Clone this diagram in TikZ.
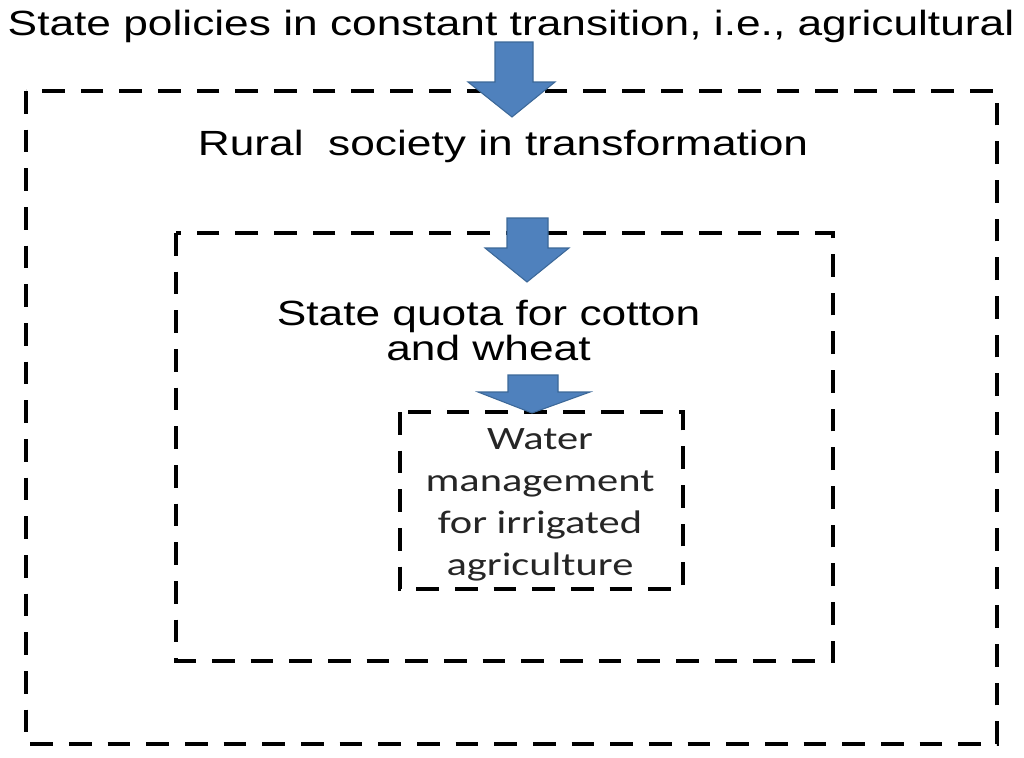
\documentclass[tikz,border=0pt]{standalone}
\usepackage{fontspec}
\setmainfont{Liberation Sans}
\newfontfamily\calibri{Carlito}
\usepackage{xcolor}

\definecolor{arrowblue}{HTML}{4F81BD}
\definecolor{arrowedge}{HTML}{3C6898}

\tikzset{
	dashbox/.style={line width=3.4pt, dash pattern=on 17pt off 12pt},
	blockarrow/.style={fill=arrowblue, draw=arrowedge, line width=0.8pt},
	bigtext/.style={inner sep=0pt, anchor=north, align=center, xscale=1.265,
		font=\fontsize{26.25}{26.25}\selectfont},
	smalltext/.style={inner sep=0pt, anchor=north, align=center, xscale=1.3,
		font=\calibri\fontsize{24.5}{31.5}\selectfont, text=black!85}
}

\begin{document}
\begin{tikzpicture}[x=0.75pt, y=-0.75pt]
	\useasboundingbox (0,0) rectangle (1024,757);
	% dashed frames
	\draw[dashbox] (26,91) rectangle (997,744);
	\draw[dashbox] (176,233) rectangle (833,661);
	\draw[dashbox] (400,412) rectangle (683,589);
	% texts
	\node[bigtext] (policies) at (511,10) {State policies in constant transition, i.e., agricultural};
	\node[bigtext] (rural) at (503,130) {Rural~ society in transformation};
	\node[bigtext] (quota) at (488.5,300) {State quota for cotton\\and wheat};
	\node[smalltext] (water) at (540,428) {Water\\management\\for irrigated\\agriculture};
	% block arrows
	\draw[blockarrow] (495,42) -- (533,42) -- (533,82) -- (555,82) -- (512,117)
		-- (468,82) -- (495,82) -- cycle;
	\draw[blockarrow] (507,218) -- (548,218) -- (548,248) -- (569,248) -- (527,282)
		-- (485,248) -- (507,248) -- cycle;
	\draw[blockarrow] (508,375) -- (558,375) -- (558,392) -- (590,392) -- (532,413)
		-- (478,392) -- (508,392) -- cycle;
\end{tikzpicture}
\end{document}
